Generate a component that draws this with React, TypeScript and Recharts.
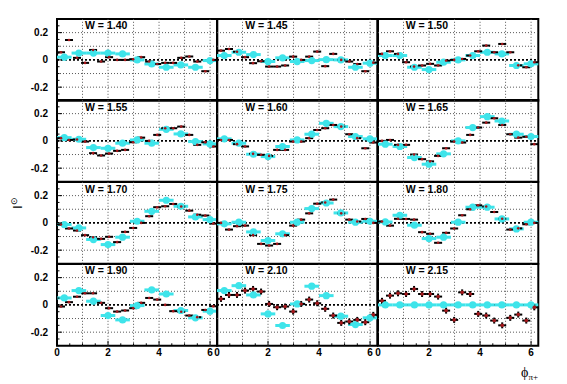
import React from 'react';
import {
  ErrorBar,
  ReferenceArea,
  ReferenceLine,
  Scatter,
  ScatterChart,
  XAxis,
  YAxis
} from 'recharts';

// bin centres in phi (rad)
const PHI_BLACK = [0.157, 0.471, 0.785, 1.1, 1.414, 1.728, 2.042, 2.356, 2.67, 2.985, 3.299, 3.613, 3.927, 4.241, 4.555, 4.869, 5.184, 5.498, 5.812, 6.126];
const PHI_CYAN = [0.286, 0.857, 1.428, 1.999, 2.57, 3.142, 3.713, 4.284, 4.855, 5.426, 5.997];
const BLACK_HALF_BIN = 0.157;
const CYAN_HALF_BIN = 0.286;
const CROSS_ERR = 0.022;

const X_LABELS = [0, 2, 4, 6];
const X_TICK_MARKS = [0, 0.5, 1, 1.5, 2, 2.5, 3, 3.5, 4, 4.5, 5, 5.5, 6];
const Y_LABELS = [-0.2, 0, 0.2];
const Y_TICK_MARKS = [-0.3, -0.25, -0.2, -0.15, -0.1, -0.05, 0, 0.05, 0.1, 0.15, 0.2, 0.25, 0.3];
const GRID_X = [1, 2, 3, 4, 5, 6];
const GRID_Y = [-0.2, -0.1, 0.1, 0.2];

const w140Black = [0.056, 0.146, 0.015, -0.022, 0.073, -0.012, 0.02, 0.0, 0.0, 0.005, 0.02, -0.012, -0.03, -0.022, -0.022, 0.015, 0.025, -0.012, -0.083, 0.0];
const w140Cyan = [0.02, 0.05, 0.05, 0.05, 0.044, 0.0, -0.03, -0.054, -0.037, -0.054, -0.005];
const w145Black = [0.068, 0.08, 0.06, 0.02, -0.024, -0.01, -0.049, -0.049, -0.041, 0.024, 0.0, 0.024, 0.061, -0.046, 0.044, 0.0, -0.012, -0.03, -0.083, -0.02];
const w145Cyan = [0.032, 0.056, 0.039, -0.012, 0.015, -0.012, -0.005, 0.002, 0.0, -0.054, -0.024];
const w150Black = [0.044, 0.063, 0.044, -0.017, -0.049, -0.041, -0.029, -0.041, -0.005, 0.0, 0.007, 0.032, 0.063, 0.105, 0.056, 0.117, 0.056, -0.04, -0.054, -0.017];
const w150Cyan = [0.032, 0.032, -0.054, -0.071, -0.017, 0.0, 0.032, 0.056, 0.044, -0.041, -0.029];
const w155Black = [0.02, 0.007, 0.01, -0.005, -0.09, -0.107, -0.093, -0.073, -0.066, -0.01, 0.024, 0.0, 0.044, 0.093, 0.093, 0.105, 0.044, -0.029, -0.01, -0.041];
const w155Cyan = [0.024, 0.012, -0.049, -0.054, -0.017, 0.007, -0.017, 0.085, 0.051, -0.005, -0.022];
const w160Black = [0.007, 0.007, -0.024, -0.041, -0.095, -0.102, -0.11, -0.066, -0.066, -0.005, -0.005, 0.02, 0.08, 0.093, 0.117, 0.105, 0.049, 0.02, -0.054, -0.012];
const w160Cyan = [0.015, -0.017, -0.098, -0.115, -0.041, 0.007, 0.049, 0.129, 0.105, 0.032, 0.015];
const w165Black = [0.0, 0.007, -0.029, -0.029, -0.1, -0.134, -0.15, -0.11, -0.054, -0.005, -0.012, 0.044, 0.098, 0.134, 0.166, 0.117, 0.049, 0.024, 0.03, -0.024];
const w165Cyan = [-0.024, -0.041, -0.122, -0.171, -0.095, 0.0, 0.098, 0.178, 0.146, 0.049, 0.032];
const w170Black = [-0.012, -0.041, -0.056, -0.09, -0.105, -0.117, -0.102, -0.141, -0.066, -0.037, 0.0, 0.049, 0.115, 0.122, 0.139, 0.12, 0.09, 0.06, 0.054, -0.005];
const w170Cyan = [-0.012, -0.037, -0.122, -0.159, -0.105, 0.012, 0.085, 0.166, 0.122, 0.044, 0.024];
const w175Black = [0.0, -0.049, -0.024, -0.02, -0.09, -0.154, -0.166, -0.154, -0.09, -0.02, 0.024, 0.07, 0.141, 0.15, 0.171, 0.07, 0.024, 0.01, 0.029, 0.0];
const w175Cyan = [-0.007, 0.005, -0.066, -0.129, -0.08, 0.005, 0.105, 0.146, 0.073, 0.005, 0.012];
const w180Black = [0.01, -0.02, 0.03, 0.029, 0.024, -0.068, -0.08, -0.146, -0.073, -0.041, 0.056, 0.1, 0.129, 0.12, 0.08, 0.03, -0.049, -0.04, -0.01, 0.0];
const w180Cyan = [0.007, 0.056, -0.017, -0.115, -0.105, 0.005, 0.115, 0.115, 0.029, -0.044, 0.005];
const w190Black = [-0.012, 0.02, 0.06, 0.085, 0.085, 0.015, -0.024, -0.049, -0.041, -0.024, 0.015, 0.051, 0.039, 0.0, -0.046, -0.05, -0.078, -0.09, -0.037, -0.01];
const w190Cyan = [0.051, 0.105, 0.027, -0.078, -0.11, -0.005, 0.11, 0.08, -0.041, -0.095, -0.046];
const w210Black = [0.044, 0.073, 0.073, 0.105, 0.117, 0.098, 0.007, -0.017, -0.012, -0.049, 0.007, 0.039, 0.012, -0.029, -0.078, -0.132, -0.122, -0.11, -0.127, -0.073];
const w210Cyan = [0.105, 0.141, 0.073, -0.066, -0.151, 0.007, 0.137, 0.068, -0.083, -0.144, -0.095];
const w215Black = [0.03, 0.068, 0.085, 0.08, 0.117, 0.08, 0.08, 0.061, -0.042, -0.11, 0.092, 0.08, -0.066, -0.078, -0.115, -0.15, -0.095, -0.071, -0.115, -0.018];
const w215Cyan = [0, 0, 0, 0, 0, 0, 0, 0, 0, 0, 0];

const PANELS = [
  { w: '1.40', black: w140Black, cyan: w140Cyan, cross: false },
  { w: '1.45', black: w145Black, cyan: w145Cyan, cross: false },
  { w: '1.50', black: w150Black, cyan: w150Cyan, cross: false },
  { w: '1.55', black: w155Black, cyan: w155Cyan, cross: false },
  { w: '1.60', black: w160Black, cyan: w160Cyan, cross: false },
  { w: '1.65', black: w165Black, cyan: w165Cyan, cross: false },
  { w: '1.70', black: w170Black, cyan: w170Cyan, cross: false },
  { w: '1.75', black: w175Black, cyan: w175Cyan, cross: false },
  { w: '1.80', black: w180Black, cyan: w180Cyan, cross: false },
  { w: '1.90', black: w190Black, cyan: w190Cyan, cross: false },
  { w: '2.10', black: w210Black, cyan: w210Cyan, cross: true },
  { w: '2.15', black: w215Black, cyan: w215Cyan, cross: true },
];

const TWO_PI = 6.2832;
const M = 3;
const YW = 45;
const XH = 22;
const COL_X = [57, 217.3, 377.7];
const ROW_Y = [18.5, 100.3, 182.1, 263.9];
const PW = 160.3;
const PH = 81.8;

const CYAN = '#3ee4ea';
const DOT = '#a3161a';
const FONT = '"Liberation Sans", Arial, Helvetica, sans-serif';

type PanelDef = (typeof PANELS)[number];

// ROOT-style inward ticks, labels only on the outer panels
const yTick = (showLabel: boolean) => (t: any) => {
  const v = t.payload.value;
  const major = Y_LABELS.includes(v);
  return (
    <g>
      <line x1={t.x} y1={t.y} x2={t.x + (major ? 5 : 2.5)} y2={t.y} stroke="#000" strokeWidth={1} />
      {showLabel && major && (
        <text x={t.x - 9} y={t.y} dy="0.36em" textAnchor="end" fontSize={10} fontWeight={700} fontFamily={FONT} fill="#000">
          {String(v)}
        </text>
      )}
    </g>
  );
};

const xTick = (showLabel: boolean) => (t: any) => {
  const v = t.payload.value;
  const major = X_LABELS.includes(v);
  return (
    <g>
      <line x1={t.x} y1={t.y} x2={t.x} y2={t.y - (major ? 5 : 2.5)} stroke="#000" strokeWidth={1} />
      {showLabel && major && (
        <text x={t.x} y={t.y + 3} dy="0.71em" textAnchor="middle" fontSize={10} fontWeight={700} fontFamily={FONT} fill="#000">
          {String(v)}
        </text>
      )}
    </g>
  );
};

const Panel = ({ p, col, row }: { p: PanelDef; col: number; row: number }) => {
  const isLeft = col === 0;
  const isBottom = row === 3;
  const yw = isLeft ? YW : 0;
  const xh = isBottom ? XH : 0;
  const blackData = PHI_BLACK.map((x, i) => ({ x, y: p.black[i], ex: BLACK_HALF_BIN, ey: CROSS_ERR }));
  const cyanData = PHI_CYAN.map((x, i) => ({ x, y: p.cyan[i], ex: CYAN_HALF_BIN }));

  return (
    <div style={{ position: 'absolute', left: COL_X[col] - yw - M, top: ROW_Y[row] - M }}>
      <ScatterChart
        width={PW + yw + 2 * M}
        height={PH + xh + 2 * M}
        margin={{ top: M, right: M, bottom: M, left: M }}
      >
        <XAxis
          type="number"
          dataKey="x"
          domain={[0, TWO_PI]}
          allowDataOverflow
          ticks={X_TICK_MARKS}
          interval={0}
          height={xh}
          tick={xTick(isBottom)}
          tickSize={0}
          tickMargin={0}
          axisLine={false}
          tickLine={false}
        />
        <YAxis
          type="number"
          dataKey="y"
          domain={[-0.3, 0.3]}
          allowDataOverflow
          ticks={Y_TICK_MARKS}
          interval={0}
          width={yw}
          tick={yTick(isLeft)}
          tickSize={0}
          tickMargin={0}
          axisLine={false}
          tickLine={false}
        />

        {GRID_X.map((v) => (
          <ReferenceLine key={'gx' + v} x={v} stroke="#555" strokeWidth={1} strokeDasharray="1 2" />
        ))}
        {GRID_Y.map((v) => (
          <ReferenceLine key={'gy' + v} y={v} stroke="#555" strokeWidth={1} strokeDasharray="1 2" />
        ))}
        <ReferenceLine y={0} stroke="#000" strokeWidth={1.6} strokeDasharray="2 2" />
        <ReferenceArea x1={0} x2={TWO_PI} y1={-0.3} y2={0.3} fill="none" fillOpacity={0} stroke="#000" strokeWidth={2} />

        <Scatter
          data={cyanData}
          isAnimationActive={false}
          shape={(s: any) => <circle cx={s.cx} cy={s.cy} r={3.6} fill={CYAN} />}
        >
          <ErrorBar dataKey="ex" direction="x" width={0} stroke={CYAN} strokeWidth={3} isAnimationActive={false} />
        </Scatter>
        <Scatter
          data={blackData}
          isAnimationActive={false}
          shape={(s: any) => <circle cx={s.cx} cy={s.cy} r={p.cross ? 1.8 : 1.3} fill={DOT} />}
        >
          <ErrorBar dataKey="ex" direction="x" width={0} stroke="#000" strokeWidth={2} isAnimationActive={false} />
          {p.cross && (
            <ErrorBar dataKey="ey" direction="y" width={0} stroke="#000" strokeWidth={2} isAnimationActive={false} />
          )}
        </Scatter>
      </ScatterChart>
    </div>
  );
};

export default function App() {
  return (
    <div style={{ position: 'absolute', left: 0, top: 0, width: 567, height: 384, background: '#fff', fontFamily: FONT }}>
      {PANELS.map((p, i) => (
        <Panel key={p.w} p={p} col={i % 3} row={Math.floor(i / 3)} />
      ))}
      <svg width={567} height={384} style={{ position: 'absolute', left: 0, top: 0, pointerEvents: 'none' }}>
        {PANELS.map((p, i) => (
          <text
            key={'lbl' + p.w}
            x={COL_X[i % 3] + 28}
            y={ROW_Y[Math.floor(i / 3)] + 10.5}
            fontSize={10.5}
            fontWeight={700}
            fontFamily={FONT}
            fill="#000"
          >
            {'W = ' + p.w}
          </text>
        ))}
        <text transform="translate(22,209) rotate(-90)" fontSize={13} fontFamily={FONT} fill="#000">
          I<tspan dy={-5} fontSize={9}>⊙</tspan>
        </text>
        <text x={521} y={377} fontSize={14} fontFamily="'Liberation Serif', serif" fill="#000">
          ϕ<tspan dy={3} fontSize={9}>π+</tspan>
        </text>
      </svg>
    </div>
  );
}
